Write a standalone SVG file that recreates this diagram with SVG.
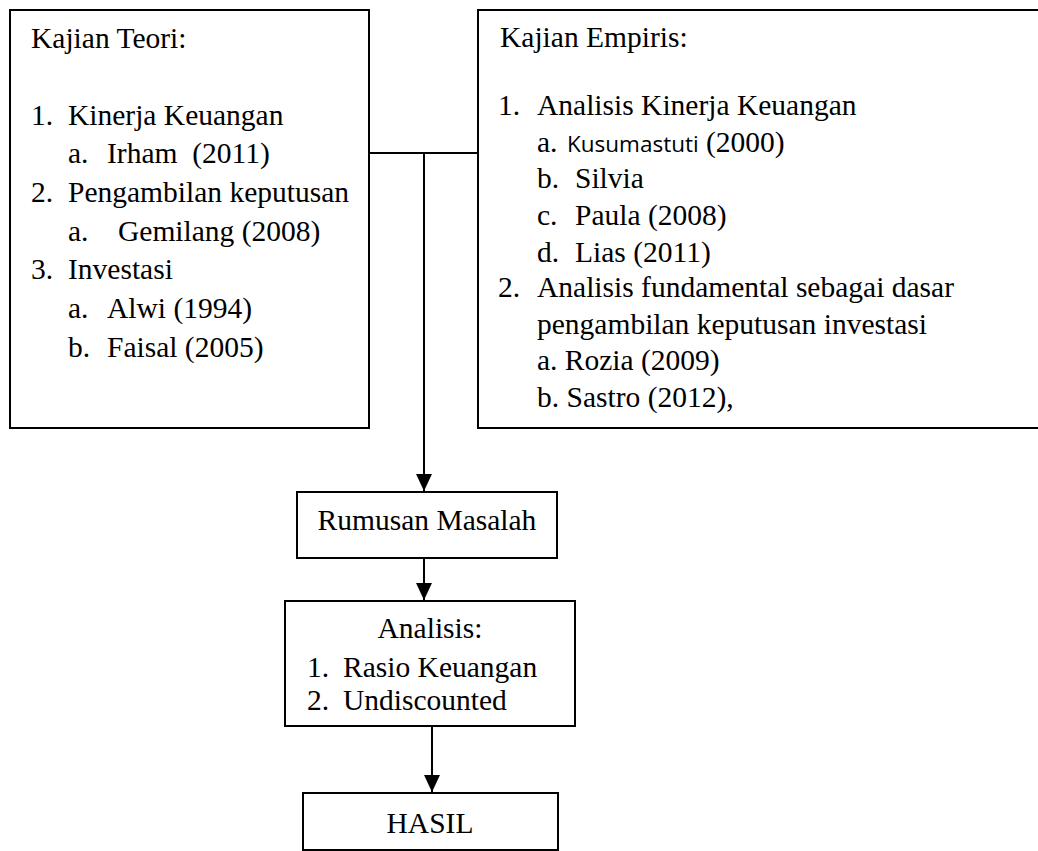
<svg xmlns="http://www.w3.org/2000/svg" width="1038" height="851" viewBox="0 0 1038 851">
<style>
.box{fill:#fff;stroke:#000;stroke-width:2}
.t{font-family:"Liberation Serif","Times New Roman",serif;font-size:29.5px;fill:#000}
.s{font-family:"Open Sans","Liberation Sans",sans-serif;font-size:22.5px}
.c{text-anchor:middle}
.ln{stroke:#000;stroke-width:2;fill:none}
</style>
<defs>
<marker id="ah" markerWidth="16" markerHeight="17" refX="17" refY="8" orient="auto" markerUnits="userSpaceOnUse">
<path d="M0,0 L17,8 L0,16 Z" fill="#000"/>
</marker>
</defs>
<rect width="1038" height="851" fill="#fff"/>
<g id="connectors">
<line class="ln" x1="369" y1="153" x2="478" y2="153"/>
<line class="ln" x1="424" y1="153" x2="424" y2="491" marker-end="url(#ah)"/>
<line class="ln" x1="424" y1="558" x2="424" y2="600" marker-end="url(#ah)"/>
<line class="ln" x1="432" y1="726" x2="432" y2="792" marker-end="url(#ah)"/>
</g>
<g id="kajian-teori">
<rect class="box" x="10" y="10" width="359" height="418"/>
<text class="t" x="31" y="48">Kajian Teori:</text>
<text class="t" x="31" y="125">1.</text><text class="t" x="68" y="125">Kinerja Keuangan</text>
<text class="t" x="68" y="163">a.</text><text class="t" x="107" y="163" xml:space="preserve">Irham  (2011)</text>
<text class="t" x="31" y="202">2.</text><text class="t" x="68" y="202">Pengambilan keputusan</text>
<text class="t" x="68" y="241">a.</text><text class="t" x="118" y="241">Gemilang (2008)</text>
<text class="t" x="31" y="279">3.</text><text class="t" x="68" y="279">Investasi</text>
<text class="t" x="68" y="318">a.</text><text class="t" x="107" y="318">Alwi (1994)</text>
<text class="t" x="68" y="357">b.</text><text class="t" x="107" y="357">Faisal (2005)</text>
</g>
<g id="kajian-empiris">
<rect class="box" x="478" y="10" width="570" height="418"/>
<text class="t" x="500" y="47">Kajian Empiris:</text>
<text class="t" x="498" y="115">1.</text><text class="t" x="537" y="115">Analisis Kinerja Keuangan</text>
<text class="t" x="537" y="152">a.</text><text class="t" x="567" y="152"><tspan class="s">Kusumastuti</tspan> (2000)</text>
<text class="t" x="537" y="188">b.</text><text class="t" x="575" y="188">Silvia</text>
<text class="t" x="537" y="225">c.</text><text class="t" x="575" y="225">Paula (2008)</text>
<text class="t" x="537" y="262">d.</text><text class="t" x="575" y="262">Lias (2011)</text>
<text class="t" x="498" y="297">2.</text><text class="t" x="537" y="297">Analisis fundamental sebagai dasar</text>
<text class="t" x="537" y="334">pengambilan keputusan investasi</text>
<text class="t" x="537" y="370">a. Rozia (2009)</text>
<text class="t" x="537" y="407">b. Sastro (2012),</text>
</g>
<g id="rumusan-masalah">
<rect class="box" x="297" y="492" width="260" height="66"/>
<text class="t c" x="427" y="530">Rumusan Masalah</text>
</g>
<g id="analisis">
<rect class="box" x="285" y="601" width="290" height="125"/>
<text class="t c" x="430" y="638">Analisis:</text>
<text class="t" x="307" y="677">1.</text><text class="t" x="343" y="677">Rasio Keuangan</text>
<text class="t" x="307" y="710">2.</text><text class="t" x="343" y="710">Undiscounted</text>
</g>
<g id="hasil">
<rect class="box" x="303" y="793" width="255" height="57"/>
<text class="t c" x="430" y="833">HASIL</text>
</g>
</svg>
